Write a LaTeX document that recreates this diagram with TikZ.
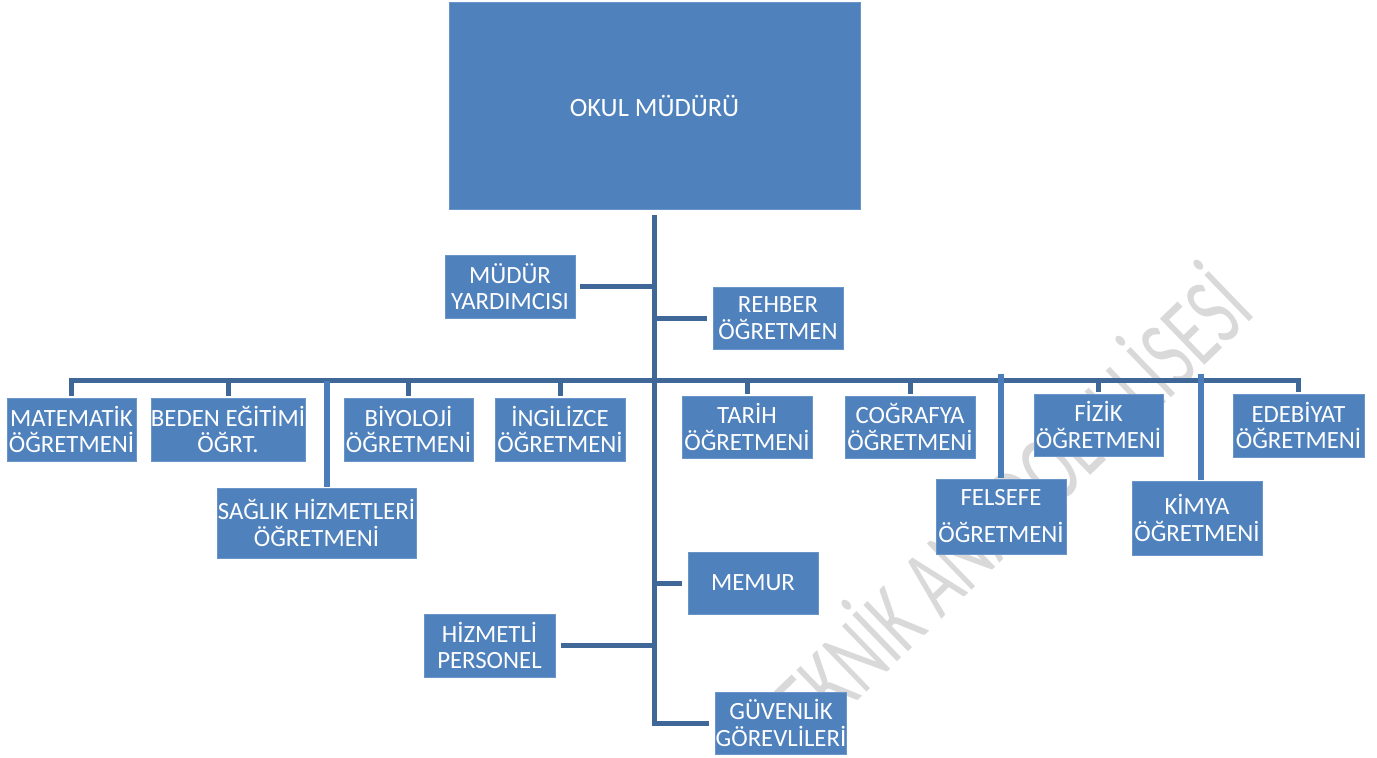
\documentclass[tikz,border=0pt]{standalone}
\usepackage{fontspec}
\setmainfont{Carlito}
\definecolor{boxblue}{HTML}{4F81BD}
\definecolor{boxedge}{HTML}{6A95C9}
\definecolor{linedark}{HTML}{3F6899}
\definecolor{linelight}{HTML}{4A7DBA}
\definecolor{wmgray}{HTML}{D9D9D9}
\begin{document}
\begin{tikzpicture}[x=1pt,y=-1pt,
  box/.style={fill=boxblue, draw=boxedge, line width=0.8pt, text=white, align=center,
    inner sep=0pt, font=\fontsize{24.8}{26.5}\selectfont},
  conn/.style={draw=linedark, line width=5pt, line join=miter},
  connlight/.style={draw=linelight, line width=5.5pt}]
\useasboundingbox (0,0) rectangle (1377,758);
\clip (0,0) rectangle (1377,758);
% watermark
\node[text=wmgray, rotate=44, anchor=base east, inner sep=0pt] (wmark) at (1258,314)
  {\scalebox{0.66}[1]{\fontsize{100}{100}\selectfont TEKNİK ANADOLU LİSESİ}};
% boxes
\node[box, minimum width=411pt, minimum height=207pt, font=\fontsize{26.5}{28}\selectfont] (okul) at (654.5,105.5) {OKUL MÜDÜRÜ};
\node[box, minimum width=130pt, minimum height=63pt] (mudyar) at (510,286.5) {MÜDÜR\\YARDIMCISI};
\node[box, minimum width=130pt, minimum height=62pt] (rehber) at (778,318) {REHBER\\ÖĞRETMEN};
\node[box, minimum width=129pt, minimum height=63pt] (mat) at (71.5,429.5) {MATEMATİK\\ÖĞRETMENİ};
\node[box, minimum width=150pt, minimum height=63pt] (beden) at (228,429.5) {BEDEN EĞİTİMİ\\ÖĞRT.};
\node[box, minimum width=199pt, minimum height=70pt] (saglik) at (316.5,523) {SAĞLIK HİZMETLERİ\\ÖĞRETMENİ};
\node[box, minimum width=129pt, minimum height=63pt] (biyo) at (408.5,429.5) {BİYOLOJİ\\ÖĞRETMENİ};
\node[box, minimum width=130pt, minimum height=63pt] (ing) at (560,429.5) {İNGİLİZCE\\ÖĞRETMENİ};
\node[box, minimum width=130pt, minimum height=62pt] (tarih) at (747,427) {TARİH\\ÖĞRETMENİ};
\node[box, minimum width=130pt, minimum height=62pt] (cog) at (910,427) {COĞRAFYA\\ÖĞRETMENİ};
\node[box, minimum width=130pt, minimum height=75pt] (felsefe) at (1001,516.5) {FELSEFE\\[10.5pt]ÖĞRETMENİ};
\node[box, minimum width=129pt, minimum height=62pt] (fizik) at (1098.5,425) {FİZİK\\ÖĞRETMENİ};
\node[box, minimum width=130pt, minimum height=74pt] (kimya) at (1197,518) {KİMYA\\ÖĞRETMENİ};
\node[box, minimum width=131pt, minimum height=63pt] (edeb) at (1298.5,425.5) {EDEBİYAT\\ÖĞRETMENİ};
\node[box, minimum width=130pt, minimum height=62pt] (memur) at (753,583) {MEMUR};
\node[box, minimum width=131pt, minimum height=63pt] (hizmetli) at (489.5,645.5) {HİZMETLİ\\PERSONEL};
\node[box, minimum width=130pt, minimum height=62pt] (guv) at (781,723) {GÜVENLİK\\GÖREVLİLERİ};
% helper coordinates
\coordinate (trunktop) at ([yshift=-6pt]okul.south);
\coordinate (bus) at (0,380.5);
% trunk
\draw[conn] (trunktop) -- (trunktop |- guv.west) -- ([xshift=-6pt]guv.west);
% side branches
\draw[conn] ([xshift=5pt]mudyar.east) -- (mudyar.east -| trunktop);
\draw[conn] (trunktop |- rehber.west) -- ([xshift=-6pt]rehber.west);
\draw[conn] (trunktop |- memur.west) -- ([xshift=-6pt]memur.west);
\draw[conn] ([xshift=6pt]hizmetli.east) -- (hizmetli.east -| trunktop);
% bus
\draw[conn] ([yshift=2pt]mat.north) -- (mat.north |- bus) -- (edeb.north |- bus) -- ([yshift=2pt]edeb.north);
\foreach \n in {beden,biyo,ing,tarih,cog,fizik}
  \draw[conn] (\n.north |- bus) -- ([yshift=2pt]\n.north);
% long drops
\draw[connlight] ([xshift=10.5pt]saglik.north |- bus) -- ([xshift=10.5pt,yshift=1pt]saglik.north);
\draw[connlight] ([yshift=7pt]felsefe.north |- bus) -- ([yshift=1pt]felsefe.north);
\draw[connlight] ([xshift=4pt,yshift=7pt]kimya.north |- bus) -- ([xshift=4pt,yshift=1pt]kimya.north);
\end{tikzpicture}
\end{document}
